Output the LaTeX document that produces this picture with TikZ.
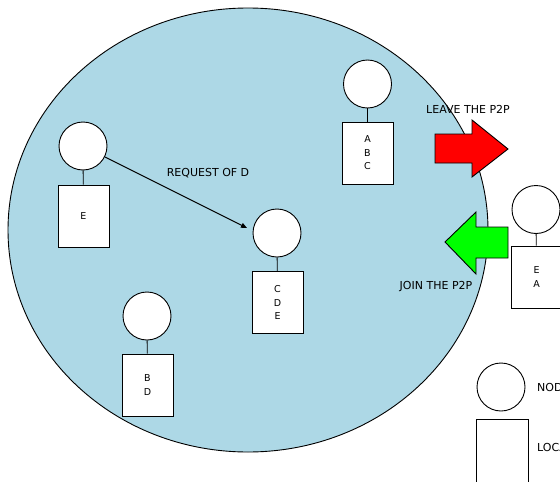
\documentclass[tikz,border=0pt]{standalone}
\usepackage{fontspec}
\setmainfont{DejaVu Sans}
\usetikzlibrary{shapes.geometric,arrows.meta}
\definecolor{p2pblue}{RGB}{173,216,230}
\definecolor{leavered}{RGB}{255,0,0}
\definecolor{joingreen}{RGB}{0,255,0}
\tikzset{
  peer/.style={circle,draw,fill=white,line width=0.9pt,minimum size=48pt,inner sep=0pt},
  store/.style={rectangle,draw,fill=white,line width=0.9pt,minimum width=51pt,minimum height=62pt,inner sep=0pt,align=center,font=\fontsize{9.5}{13.5}\selectfont},
  link/.style={line width=0.9pt},
  lbl/.style={font=\fontsize{11}{12}\selectfont,inner sep=0pt},
  bigarrow/.style={draw,line width=0.9pt,line join=miter}
}
\begin{document}
\begin{tikzpicture}[x=1pt,y=-1pt]
\useasboundingbox (0,0) rectangle (560,482);
\node[ellipse,draw,fill=p2pblue,line width=0.9pt,minimum width=480pt,minimum height=444pt,inner sep=0pt] (p2p) at (248,230) {};

% peer E
\node[peer] (pE) at (83,146) {};
\node[store] (sE) at (83.5,216) {E};
\draw[link] (pE) -- (sE);
% peer CDE
\node[peer] (pCDE) at (277,233) {};
\node[store] (sCDE) at (277.5,302.5) {C\\D\\E};
\draw[link] (pCDE) -- (sCDE);
% peer BD
\node[peer] (pBD) at (147,316) {};
\node[store] (sBD) at (147.5,385) {B\\D};
\draw[link] (pBD) -- (sBD);
% peer ABC
\node[peer] (pABC) at (367.5,84) {};
\node[store] (sABC) at (367.5,153) {A\\B\\C};
\draw[link] (pABC) -- (sABC);
% peer EA (joining)
\node[peer] (pEA) at (536,209.5) {};
\node[store] (sEA) at (536.5,277) {E\\A};
\draw[link] (pEA) -- (sEA);

% request
\coordinate (reqend) at (247,228);
\draw[link,-{Triangle[length=6pt,width=5pt]}] (pE) -- (reqend);
\node[lbl] (lreq) at (208,173) {REQUEST OF D};

% leave arrow
\draw[bigarrow,fill=leavered] (435,134) -- (472,134) -- (472,120) -- (508,149) -- (472,177) -- (472,163) -- (435,163) -- cycle;
\node[lbl] (lleave) at (468,109) {LEAVE THE P2P};

% join arrow
\draw[bigarrow,fill=joingreen] (508,227) -- (476,227) -- (476,212) -- (445,242) -- (476,274) -- (476,258) -- (508,258) -- cycle;
\node[lbl] (ljoin) at (436,287) {JOIN THE P2P};

% legend
\node[peer] (legpeer) at (501,387) {};
\node[store,minimum width=52pt,minimum height=63pt] (legstore) at (502,450.5) {};
\node[lbl,anchor=west] (legpeertext) at (537,387) {NODE};
\node[lbl,anchor=west] (legstoretext) at (537,447) {LOCAL};
\end{tikzpicture}
\end{document}
